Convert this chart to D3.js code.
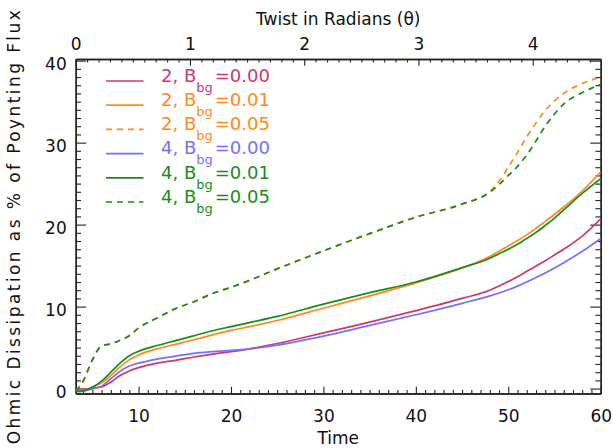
<!DOCTYPE html>
<html><head><meta charset="utf-8">
<script src="https://cdn.jsdelivr.net/npm/d3@7"></script>
<style>
body{margin:0;background:#fff}
svg{display:block}
text{font-family:"DejaVu Sans",sans-serif}
</style>
</head><body>
<svg id="c" width="613" height="448"></svg>
<script>
// ---- data ----
const time = [3.2, 4, 5, 6, 7, 8, 9, 10, 12, 14, 16, 18, 20, 22, 25, 30, 35, 40, 45, 48, 49, 50, 51, 52, 53, 54, 55, 56, 58, 60];
const n2_b000 = [-0.1, -0.1, 0.05, 0.2, 0.8, 1.6, 2.15, 2.55, 3.1, 3.45, 3.85, 4.2, 4.5, 4.85, 5.5, 6.8, 8.1, 9.5, 11.0, 12.0, 12.5, 13.05, 13.65, 14.3, 14.95, 15.6, 16.3, 17.0, 18.6, 20.7];
const n2_b001 = [-0.3, -0.25, 0.2, 0.7, 1.6, 2.65, 3.5, 4.1, 4.85, 5.4, 5.95, 6.55, 7.1, 7.55, 8.3, 9.8, 11.3, 12.9, 14.7, 16.1, 16.75, 17.4, 18.05, 18.75, 19.55, 20.4, 21.25, 22.15, 24.1, 26.4];
const n2_b005 = [-0.3, 0.9, 3.5, 5.2, 5.45, 5.9, 6.45, 7.4, 8.6, 9.75, 10.6, 11.6, 12.35, 13.2, 14.6, 16.8, 18.9, 20.9, 22.5, 24.0, 25.3, 27.0, 28.8, 30.7, 32.4, 33.9, 35.1, 36.0, 37.2, 38.0];
const n4_b000 = [-0.35, -0.3, -0.05, 0.3, 1.2, 2.1, 2.75, 3.1, 3.6, 3.95, 4.3, 4.5, 4.65, 4.85, 5.3, 6.4, 7.7, 9.0, 10.4, 11.3, 11.65, 12.05, 12.5, 13.0, 13.55, 14.1, 14.7, 15.35, 16.75, 18.3];
const n4_b001 = [-0.35, -0.3, 0.15, 0.9, 2.0, 3.1, 4.0, 4.55, 5.25, 5.85, 6.45, 7.05, 7.55, 8.05, 8.8, 10.3, 11.7, 13.0, 14.75, 15.9, 16.45, 17.0, 17.6, 18.3, 19.05, 19.9, 20.8, 21.8, 23.8, 25.6];
const n4_b005 = [-0.3, 0.9, 3.5, 5.2, 5.45, 5.9, 6.45, 7.4, 8.6, 9.75, 10.6, 11.6, 12.35, 13.2, 14.6, 16.8, 18.9, 20.9, 22.5, 23.95, 24.9, 26.0, 27.1, 28.5, 30.2, 32.0, 33.5, 34.7, 36.1, 37.1];

const seriesPrefix = ["2, B", "2, B", "2, B", "4, B", "4, B", "4, B"];
const seriesValue  = ["=0.00", "=0.01", "=0.05", "=0.00", "=0.01", "=0.05"];
const seriesData   = [n2_b000, n2_b001, n2_b005, n4_b000, n4_b001, n4_b005];
const seriesColor  = ["#cc3a6c", "#ff8a1c", "#ff8a1c", "#7272ff", "#1a8c1a", "#1a8c1a"];
const seriesDash   = [false, false, true, false, false, true];

const timeTicks  = [10, 20, 30, 40, 50, 60];
const twistTicks = [0, 1, 2, 3, 4];
const fluxTicks  = [0, 10, 20, 30, 40];

// ---- layout ----
const L = 75.7, R = 600.7, T = 59, B = 393.5;
const svg = d3.select("#c");
const x = d3.scaleLinear().domain([3.2, 60]).range([L, R]);
const xt = d3.scaleLinear().domain([0, 4.595]).range([L, R]);
const y = d3.scaleLinear().domain([-0.6, 40.2]).range([B, T]);

const axisColor = "#222";
const fs = 17;

function styleAxis(g) {
  g.selectAll("path.domain").attr("stroke", axisColor).attr("stroke-width", 1.4);
  g.selectAll(".tick line").attr("stroke", axisColor).attr("stroke-width", 1.1);
  g.selectAll(".tick text").attr("fill", "#111").style("font-size", fs + "px").style("font-family", '"DejaVu Sans",sans-serif');
}

const xMinor = d3.range(4, 60, 1).filter(v => !timeTicks.includes(v));
const tMinor = d3.range(1, 46).map(v => v / 10).filter(v => v % 1 !== 0);
const yMinor = d3.range(0, 41, 1).filter(v => !fluxTicks.includes(v));

// minor ticks
svg.append("g").attr("transform", `translate(0,${B})`)
  .call(d3.axisBottom(x).tickValues(xMinor).tickSize(-3.4).tickSizeOuter(0).tickFormat(""))
  .call(styleAxis);
svg.append("g").attr("transform", `translate(0,${T})`)
  .call(d3.axisTop(xt).tickValues(tMinor).tickSize(-3.4).tickSizeOuter(0).tickFormat(""))
  .call(styleAxis);
svg.append("g").attr("transform", `translate(${L},0)`)
  .call(d3.axisLeft(y).tickValues(yMinor).tickSize(-5.3).tickSizeOuter(0).tickFormat(""))
  .call(styleAxis);
svg.append("g").attr("transform", `translate(${R},0)`)
  .call(d3.axisRight(y).tickValues(yMinor).tickSize(-5.3).tickSizeOuter(0).tickFormat(""))
  .call(styleAxis);

// major ticks + labels
svg.append("g").attr("transform", `translate(0,${B})`)
  .call(d3.axisBottom(x).tickValues(timeTicks).tickSize(-6.7).tickSizeOuter(0).tickPadding(16.5).tickFormat(d3.format("d")))
  .call(styleAxis);
svg.append("g").attr("transform", `translate(0,${T})`)
  .call(d3.axisTop(xt).tickValues(twistTicks).tickSize(-6.7).tickSizeOuter(0).tickPadding(9).tickFormat(d3.format("d")))
  .call(styleAxis);
const gl = svg.append("g").attr("transform", `translate(${L},0)`)
  .call(d3.axisLeft(y).tickValues(fluxTicks).tickSize(-10.5).tickSizeOuter(0).tickPadding(9).tickFormat(d3.format("d")))
  .call(styleAxis);
gl.selectAll(".tick text").attr("dy", "0.52em");
svg.append("g").attr("transform", `translate(${R},0)`)
  .call(d3.axisRight(y).tickValues(fluxTicks).tickSize(-10.5).tickSizeOuter(0).tickFormat(""))
  .call(styleAxis);

// axis titles
svg.append("text").attr("x", (L + R) / 2).attr("y", 444).attr("text-anchor", "middle")
  .style("font-size", fs + "px").attr("fill", "#111").text("Time");
svg.append("text").attr("x", (L + R) / 2).attr("y", 25).attr("text-anchor", "middle")
  .style("font-size", fs + "px").attr("fill", "#111").text("Twist in Radians (θ)");
svg.append("text").attr("transform", `translate(20,${(T + B) / 2 + 1}) rotate(-90)`)
  .attr("text-anchor", "middle").style("font-size", fs + "px").attr("fill", "#111")
  .attr("textLength", 434).attr("lengthAdjust", "spacing")
  .text("Ohmic Dissipation as % of Poynting Flux");

// curves
svg.append("clipPath").attr("id", "clip").append("rect")
  .attr("x", L).attr("y", T).attr("width", R - L).attr("height", B - T);
const line = d3.line().x((d, i) => x(time[i])).y(d => y(d)).curve(d3.curveMonotoneX);
const gLines = svg.append("g").attr("clip-path", "url(#clip)");
seriesData.forEach((vals, k) => {
  gLines.append("path").datum(vals)
    .attr("d", line)
    .attr("fill", "none")
    .attr("stroke", seriesColor[k])
    .attr("stroke-width", 1.7)
    .attr("stroke-dasharray", seriesDash[k] ? "6,5" : null);
});

// legend
const lg = svg.append("g");
seriesData.forEach((vals, k) => {
  const yy = 81 + k * 24.2;
  lg.append("line").attr("x1", 106).attr("x2", 143.5).attr("y1", yy).attr("y2", yy)
    .attr("stroke", seriesColor[k]).attr("stroke-width", 1.7)
    .attr("stroke-dasharray", seriesDash[k] ? "6,5" : null);
  const t = lg.append("text").attr("x", 161).attr("y", yy + 0.7)
    .style("font-size", "18px").attr("fill", seriesColor[k]);
  t.append("tspan").text(seriesPrefix[k]);
  t.append("tspan").attr("dy", 10).style("font-size", "13px").text("bg");
  t.append("tspan").attr("dy", -10).attr("dx", 2).text(seriesValue[k]);
});
</script>
</body></html>
